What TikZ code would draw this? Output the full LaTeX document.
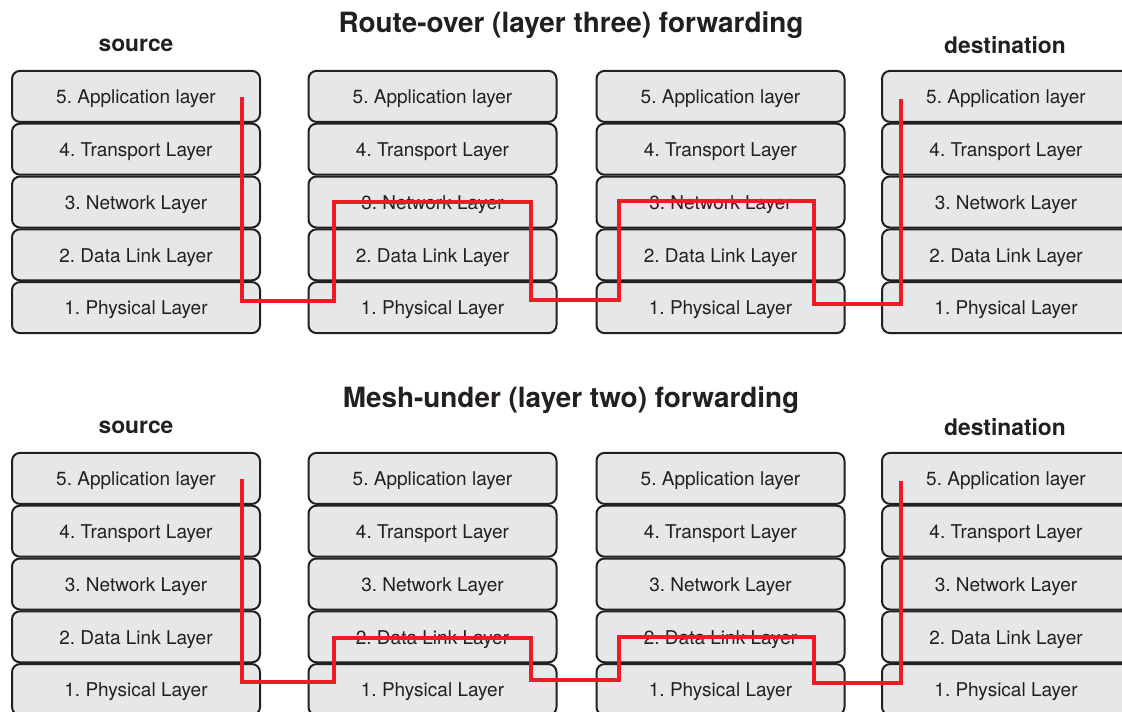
\documentclass[tikz,border=0pt]{standalone}
\usepackage{fontspec}
\setmainfont{TeX Gyre Heros}
\definecolor{boxfill}{HTML}{E6E7E9}
\definecolor{boxline}{HTML}{231F20}
\definecolor{routered}{HTML}{ED1C24}
\frenchspacing
\begin{document}
\begin{tikzpicture}[x=1pt,y=-1pt,
  layerbox/.style={draw=boxline, line width=2pt, fill=boxfill, rounded corners=8pt,
    minimum width=248pt, minimum height=51pt, inner sep=0pt, text=boxline,
    text height=14.7pt, text depth=0pt,
    font=\fontsize{19}{21}\selectfont\frenchspacing},
  titletext/.style={font=\bfseries\fontsize{27.9}{30}\selectfont, text=boxline},
  endtext/.style={font=\bfseries\fontsize{22.8}{25}\selectfont, text=boxline},
  route/.style={draw=routered, line width=4pt, line join=miter}]
\useasboundingbox (0,0) rectangle (1122,712);
\clip (0,0) rectangle (1122,712);
% titles
\node[titletext] (title1) at (571,25.5) {Route-over (layer three) forwarding};
\node[endtext] (src1) at (136,45) {source};
\node[endtext] (dst1) at (1005,45) {destination};
\node[titletext] (title2) at (571,400.5) {Mesh-under (layer two) forwarding};
\node[endtext] (src2) at (136,427) {source};
\node[endtext] (dst2) at (1005,427) {destination};
% stacks
\foreach \d/\top in {T/70, B/452}{
  \foreach \s/\cx in {1/136, 2/432.5, 3/720.5, 4/1006}{
    \foreach \l/\name [count=\r from 0] in {5/{5. Application layer}, 4/{4. Transport Layer}, 3/{3. Network Layer}, 2/{2. Data Link Layer}, 1/{1. Physical Layer}}{
      \node[layerbox] (\d\s L\l) at (\cx, \top+26.4+\r*52.8) {\name};
    }
  }
}
% route-over path
\coordinate (a0) at (242,97);
\coordinate (a1) at (242,301);
\coordinate (a2) at (334,301);
\coordinate (a3) at (334,202);
\coordinate (a4) at (531,202);
\coordinate (a5) at (531,300);
\coordinate (a6) at (619,300);
\coordinate (a7) at (619,201);
\coordinate (a8) at (814,201);
\coordinate (a9) at (814,304);
\coordinate (a10) at (901,304);
\coordinate (a11) at (901,99);
\draw[route] (a0) -- (a1) -- (a2) -- (a3) -- (a4) -- (a5) -- (a6) -- (a7) -- (a8) -- (a9) -- (a10) -- (a11);
% mesh-under path
\coordinate (b0) at (242,479);
\coordinate (b1) at (242,682);
\coordinate (b2) at (334,682);
\coordinate (b3) at (334,638);
\coordinate (b4) at (531,638);
\coordinate (b5) at (531,680);
\coordinate (b6) at (619,680);
\coordinate (b7) at (619,637);
\coordinate (b8) at (814,637);
\coordinate (b9) at (814,683);
\coordinate (b10) at (901,683);
\coordinate (b11) at (901,481);
\draw[route] (b0) -- (b1) -- (b2) -- (b3) -- (b4) -- (b5) -- (b6) -- (b7) -- (b8) -- (b9) -- (b10) -- (b11);
\end{tikzpicture}
\end{document}
